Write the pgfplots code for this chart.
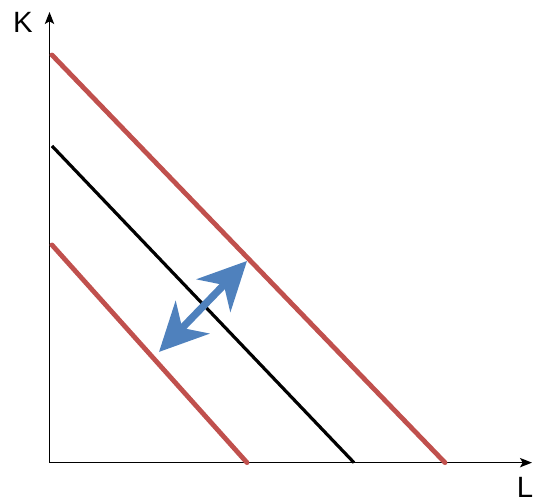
\documentclass[border=0pt]{standalone}
\usepackage{pgfplots}
\pgfplotsset{compat=1.18}
\usepackage{fontspec}
\setmainfont{Liberation Sans}
\usetikzlibrary{arrows.meta}

\definecolor{isored}{HTML}{C0504D}
\definecolor{shiftblue}{HTML}{4F81BD}

\begin{document}
\begin{tikzpicture}
	\begin{axis}[
			scale only axis,
			width=361.9pt, height=338pt,
			xmin=0, xmax=482.5,
			ymin=0, ymax=450.7,
			axis lines=left,
			axis line style={line width=1pt, -{Stealth[length=9pt,width=7pt,inset=2pt]}},
			xtick=\empty, ytick=\empty,
			clip=false,
		]

		% outer isocost line
		\addplot[isored, line width=3.6pt, line cap=round] coordinates {
				(2.5,407.7) (395.5,0)
			};
		% middle (original) line
		\addplot[black, line width=2.4pt] coordinates {
				(2.5,316.7) (304.5,0)
			};
		% inner isocost line
		\addplot[isored, line width=3.6pt, line cap=round] coordinates {
				(2.5,217.7) (197.5,0)
			};
		% shift arrow
		\addplot[shiftblue, line width=5.5pt,
			{Stealth[length=36pt,width=35pt,inset=11pt]}-{Stealth[length=36pt,width=35pt,inset=11pt]}]
		coordinates {
				(109.5,110.7) (197.5,201.7)
			};

		\node[font=\fontsize{22}{26}\selectfont, inner sep=0pt] at (axis cs:-26.5,440.5) {K};
		\node[font=\fontsize{22}{26}\selectfont, inner sep=0pt, anchor=west] at (axis cs:467,-24.5) {L};

		\coordinate (bbsw) at (axis cs:-49.5,-40.3);
		\coordinate (bbne) at (axis cs:483.5,462.7);
	\end{axis}
	\pgfresetboundingbox
	\path (bbsw) rectangle (bbne);
\end{tikzpicture}
\end{document}
